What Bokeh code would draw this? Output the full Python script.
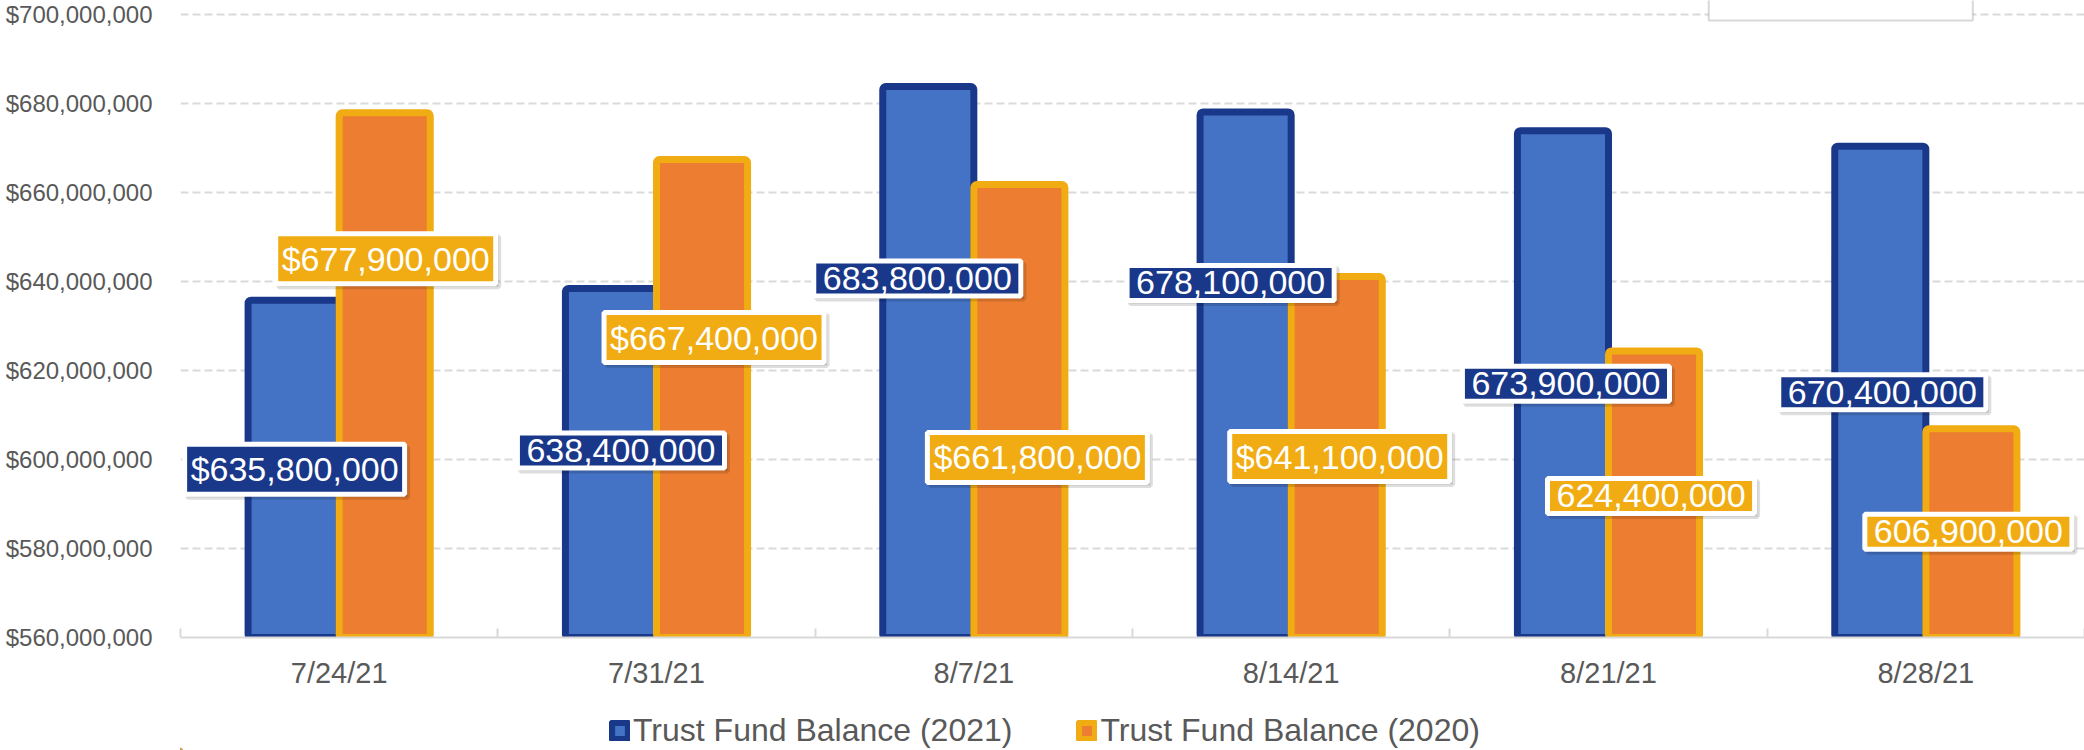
from bokeh.plotting import figure
from bokeh.layouts import column
from bokeh.models import (ColumnDataSource, Range1d, FixedTicker, NumeralTickFormatter,
                          Legend, LegendItem, BoxAnnotation, CDSView, IndexFilter)
from bokeh.core.properties import value
from bokeh.transform import dodge
from bokeh.embed import file_html
from bokeh.resources import INLINE

# ---------------- data ----------------
dates = ["7/24/21", "7/31/21", "8/7/21", "8/14/21", "8/21/21", "8/28/21"]
balance_2021 = [635_800_000, 638_400_000, 683_800_000, 678_100_000, 673_900_000, 670_400_000]
balance_2020 = [677_900_000, 667_400_000, 661_800_000, 641_100_000, 624_400_000, 606_900_000]
labels_2021 = ["$635,800,000", "638,400,000", "683,800,000", "678,100,000", "673,900,000", "670,400,000"]
labels_2020 = ["$677,900,000", "$667,400,000", "$661,800,000", "$641,100,000", "624,400,000", "606,900,000"]
series_names = ["Trust Fund Balance (2021)", "Trust Fund Balance (2020)"]
y_ticks = [560_000_000, 580_000_000, 600_000_000, 620_000_000, 640_000_000,
           660_000_000, 680_000_000, 700_000_000]

# label placement (screen px, relative to the top centre of each bar)
lab_dx_2021 = [1, 10, -11, -15, 3, 2]
lab_dy_2021 = [169, 162, 192, 171, 253, 246]
lab_dx_2020 = [1, 12, 18, 3, -3, -3]
lab_dy_2020 = [146, 178, 273, 180, 145, 103]

# ---------------- styles ----------------
FONT = "Liberation Sans"
BLUE_FILL, BLUE_LINE = "#4472C4", "#1A388A"
ORANGE_FILL, ORANGE_LINE = "#ED7D31", "#F0AC12"
GRAY_TEXT = "#595959"
GRID = "#D9D9D9"
HALF = 0.1435
BAR_W = 0.287
SHADOW = 3
LEGEND_H = 50

n = len(dates)
src = ColumnDataSource(dict(
    x=[i + 0.5 for i in range(n)],
    b21=balance_2021, b20=balance_2020,
    l21=labels_2021, l20=labels_2020,
    dx21=lab_dx_2021, dy21=lab_dy_2021,
    dx20=lab_dx_2020, dy20=lab_dy_2020,
    sdx21=[d + SHADOW for d in lab_dx_2021], sdy21=[d + SHADOW for d in lab_dy_2021],
    sdx20=[d + SHADOW for d in lab_dx_2020], sdy20=[d + SHADOW for d in lab_dy_2020],
))

p = figure(frame_width=1904, frame_height=637,
           x_range=Range1d(0, n), y_range=Range1d(y_ticks[0], y_ticks[-1] + 3_146_000),
           output_backend="svg", toolbar_location=None,
           min_border_left=180, min_border_right=0, min_border_top=0,
           min_border_bottom=113 - LEGEND_H)
p.outline_line_color = None
p.background_fill_color = "white"
p.border_fill_color = "white"

# grid
p.xgrid.grid_line_color = None
p.ygrid.grid_line_color = GRID
p.ygrid.grid_line_width = 2
p.ygrid.grid_line_dash = "8 4"

# y axis
p.yaxis.ticker = FixedTicker(ticks=y_ticks)
p.yaxis.formatter = NumeralTickFormatter(format="$0,0")
p.yaxis.axis_line_color = None
p.yaxis.major_tick_line_color = None
p.yaxis.minor_tick_line_color = None
p.yaxis.major_tick_out = 0
p.yaxis.major_tick_in = 0
p.yaxis.major_label_standoff = 28
p.yaxis.major_label_text_font = FONT
p.yaxis.major_label_text_font_size = "24px"
p.yaxis.major_label_text_color = GRAY_TEXT

# x axis
centers = [i + 0.5 for i in range(n)]
p.xaxis.ticker = FixedTicker(ticks=centers, minor_ticks=list(range(n + 1)))
p.xaxis.major_label_overrides = {c: d for c, d in zip(centers, dates)}
p.xaxis.axis_line_color = GRID
p.xaxis.axis_line_width = 2
p.xaxis.major_tick_line_color = None
p.xaxis.major_tick_out = 0
p.xaxis.major_tick_in = 0
p.xaxis.minor_tick_line_color = GRID
p.xaxis.minor_tick_line_width = 2
p.xaxis.minor_tick_in = 9
p.xaxis.minor_tick_out = 0
p.xaxis.major_label_standoff = 19
p.xaxis.major_label_text_font = FONT
p.xaxis.major_label_text_font_size = "29px"
p.xaxis.major_label_text_color = GRAY_TEXT

# box at the top
p.add_layout(BoxAnnotation(left=4.816, right=5.648, bottom=698_650_000, top=720_000_000,
                           fill_color="white", fill_alpha=1.0,
                           line_color="#7F7F7F", line_width=2))

# bars
bar21 = dict(fill_color=BLUE_FILL, line_color=BLUE_LINE, line_width=7, border_radius=3)
bar20 = dict(fill_color=ORANGE_FILL, line_color=ORANGE_LINE, line_width=7, border_radius=3)
p.vbar(x=dodge("x", -HALF, range=p.x_range), top="b21", bottom=y_ticks[0], width=BAR_W,
       source=src, **bar21)
p.vbar(x=dodge("x", HALF, range=p.x_range), top="b20", bottom=y_ticks[0], width=BAR_W,
       source=src, **bar20)

# labels (shadow first, then box); labels without "$" get more vertical padding
common = dict(source=src, text_font=value(FONT), text_font_size="34px",
              text_align="center", text_baseline="middle")
for key, col, labs in (("21", BLUE_LINE, labels_2021), ("20", ORANGE_LINE, labels_2020)):
    off = -HALF if key == "21" else HALF
    with_dollar = [i for i, s in enumerate(labs) if s.startswith("$")]
    without = [i for i, s in enumerate(labs) if not s.startswith("$")]
    for idx, pad in ((with_dollar, (6, 6)), (without, (9, 6))):
        if not idx:
            continue
        view = CDSView(filter=IndexFilter(indices=idx))
        p.text(x=dodge("x", off, range=p.x_range), y="b" + key, text="l" + key,
               x_offset="sdx" + key, y_offset="sdy" + key, text_alpha=0.0,
               background_fill_color="black", background_fill_alpha=0.13,
               border_line_color="black", border_line_alpha=0.13, border_line_width=5,
               padding=pad, view=view, **common)
        p.text(x=dodge("x", off, range=p.x_range), y="b" + key, text="l" + key,
               x_offset="dx" + key, y_offset="dy" + key, text_color="white",
               background_fill_color=col, border_line_color="white", border_line_width=5,
               padding=pad, view=view, **common)

# ---------------- legend strip (frame aligned with the chart's frame) ----------------
pl = figure(width=2084, height=LEGEND_H, x_range=Range1d(0, 1), y_range=Range1d(0, 1),
            output_backend="svg", toolbar_location=None, min_border=0)
pl.axis.visible = False
pl.grid.visible = False
pl.outline_line_color = None
pl.background_fill_color = "white"
pl.border_fill_color = "white"
# swatch renderers: one hidden sample each (far outside the strip's range), used only by the legend
swatch = ColumnDataSource(dict(x=[-10.0], top=[-10.0], bottom=[-11.0]))
lr21 = pl.vbar(x="x", top="top", bottom="bottom", width=0.1, source=swatch, **bar21)
lr20 = pl.vbar(x="x", top="top", bottom="bottom", width=0.1, source=swatch, **bar20)
legend = Legend(items=[LegendItem(label=series_names[0], renderers=[lr21]),
                       LegendItem(label=series_names[1], renderers=[lr20])],
                orientation="horizontal", location=(429, 1),
                glyph_width=21, glyph_height=21, label_standoff=3, spacing=64,
                padding=0, margin=0, border_line_color=None, background_fill_alpha=0,
                label_text_font=FONT, label_text_font_size="32px",
                label_text_color=GRAY_TEXT)
pl.add_layout(legend, "center")

layout = column(p, pl, spacing=0)
open("out.html", "w").write(file_html(layout, INLINE))
